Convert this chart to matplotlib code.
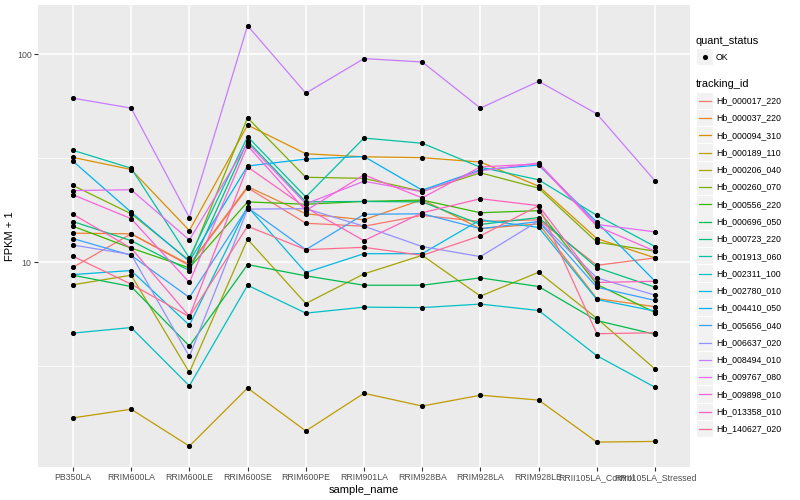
import matplotlib
matplotlib.use("Agg")
import matplotlib.pyplot as plt
from matplotlib.lines import Line2D
from matplotlib.patches import Rectangle
from matplotlib.ticker import FixedLocator, NullFormatter

plt.rcParams['font.family'] = ['Liberation Sans', 'DejaVu Sans']

samples = ['PB350LA', 'RRIM600LA', 'RRIM600LE', 'RRIM600SE', 'RRIM600PE', 'RRIM901LA',
           'RRIM928BA', 'RRIM928LA', 'RRIM928LE', 'RRII105LA_Control', 'RRII105LA_Stressed']

tracking_ids = ['Hb_000017_220', 'Hb_000037_220', 'Hb_000094_310', 'Hb_000189_110',
                'Hb_000206_040', 'Hb_000260_070', 'Hb_000556_220', 'Hb_000696_050',
                'Hb_000723_220', 'Hb_001913_060', 'Hb_002311_100', 'Hb_002780_010',
                'Hb_004410_050', 'Hb_005656_040', 'Hb_006637_020', 'Hb_008494_010',
                'Hb_009767_080', 'Hb_009898_010', 'Hb_013358_010', 'Hb_140627_020']

# FPKM + 1 per gene, in the order of samples
hb_000017_220 = [9.46, 13.7, 9.64, 22.8, 15.4, 14.9, 16.8, 15.7, 16.0, 9.67, 10.5]
hb_000037_220 = [13.8, 13.7, 9.75, 23.1, 17.1, 16.0, 20.0, 14.5, 15.3, 6.70, 6.12]
hb_000094_310 = [31.9, 27.9, 14.2, 45.6, 33.2, 32.1, 31.8, 30.3, 23.2, 13.0, 10.5]
hb_000189_110 = [1.79, 1.97, 1.31, 2.49, 1.55, 2.35, 2.04, 2.30, 2.18, 1.37, 1.38]
hb_000206_040 = [7.80, 8.67, 2.96, 12.9, 6.34, 8.80, 10.8, 6.88, 8.96, 5.38, 3.07]
hb_000260_070 = [23.4, 17.1, 10.2, 49.4, 25.6, 25.3, 21.9, 26.9, 22.7, 12.5, 11.3]
hb_000556_220 = [14.9, 11.7, 9.40, 19.5, 19.0, 19.6, 19.9, 17.3, 17.7, 7.83, 5.74]
hb_000696_050 = [8.67, 7.65, 3.96, 9.75, 8.61, 7.76, 7.76, 8.42, 7.65, 5.25, 4.51]
hb_000723_220 = [15.7, 12.7, 9.13, 38.2, 19.5, 19.6, 19.5, 15.2, 16.4, 9.43, 7.59]
hb_001913_060 = [34.5, 28.3, 10.5, 40.1, 20.6, 39.5, 37.3, 28.6, 24.9, 16.8, 11.9]
hb_002311_100 = [4.57, 4.86, 2.55, 7.76, 5.70, 6.09, 6.06, 6.30, 5.87, 3.56, 2.51]
hb_002780_010 = [8.73, 9.13, 4.99, 18.5, 8.93, 11.0, 11.0, 16.0, 14.7, 6.63, 5.83]
hb_004410_050 = [30.6, 17.4, 10.1, 29.0, 31.3, 32.2, 22.2, 27.8, 29.3, 15.6, 8.11]
hb_005656_040 = [13.0, 10.8, 6.78, 18.3, 11.5, 17.0, 17.1, 14.5, 15.7, 7.59, 6.56]
hb_006637_020 = [12.1, 10.9, 3.53, 18.0, 18.1, 14.9, 11.9, 10.65, 15.8, 8.42, 6.95]
hb_008494_010 = [61.4, 55.0, 16.4, 136.8, 64.9, 95.1, 91.6, 55.0, 74.0, 51.6, 24.6]
hb_009767_080 = [22.1, 22.3, 12.8, 37.4, 19.1, 24.5, 21.8, 27.5, 30.0, 15.2, 14.0]
hb_009898_010 = [21.1, 16.2, 8.00, 36.3, 17.7, 26.3, 20.4, 28.7, 29.7, 14.9, 11.3]
hb_013358_010 = [17.0, 11.7, 5.50, 28.7, 18.3, 12.7, 17.3, 20.2, 18.7, 8.00, 8.11]
hb_140627_020 = [10.7, 7.85, 5.48, 14.9, 11.5, 11.8, 10.8, 13.4, 18.7, 4.54, 4.59]

series = [hb_000017_220, hb_000037_220, hb_000094_310, hb_000189_110, hb_000206_040,
          hb_000260_070, hb_000556_220, hb_000696_050, hb_000723_220, hb_001913_060,
          hb_002311_100, hb_002780_010, hb_004410_050, hb_005656_040, hb_006637_020,
          hb_008494_010, hb_009767_080, hb_009898_010, hb_013358_010, hb_140627_020]

# ggplot2 hue palette for 20 levels
colors = ['#F8766D', '#EA8331', '#D89000', '#C09B00', '#A3A500', '#7CAE00', '#39B600',
          '#00BB4E', '#00BF7D', '#00C1A3', '#00BFC4', '#00BAE0', '#00B0F6', '#35A2FF',
          '#9590FF', '#C77CFF', '#E76BF3', '#FA62DB', '#FF62BC', '#FF6C91']

W, H = 800, 500
fig = plt.figure(figsize=(8, 5), dpi=100)
ax = fig.add_axes([38 / W, 1 - 467 / H, (690 - 38) / W, (467 - 5) / H])
ax.set_facecolor('#EBEBEB')

x = list(range(len(samples)))
for vals, col in zip(series, colors):
    ax.plot(x, vals, color=col, lw=0.9, zorder=3)
for vals in series:
    ax.plot(x, vals, ls='none', marker='o', ms=2.7, color='black', zorder=4)

ax.set_yscale('log')
ax.set_ylim(1.04, 172)
ax.set_xlim(-0.6, len(samples) - 0.4)
ax.set_yticks([10, 100])
ax.set_yticklabels(['10', '100'])
ax.yaxis.set_minor_locator(FixedLocator([10 ** 0.5, 10 ** 1.5]))
ax.yaxis.set_minor_formatter(NullFormatter())
ax.set_xticks(x)
ax.set_xticklabels(samples)

ax.grid(True, which='major', color='white', lw=1.1, zorder=0)
ax.grid(True, which='minor', axis='y', color='white', lw=0.55, zorder=0)
ax.set_axisbelow(True)
for s in ax.spines.values():
    s.set_visible(False)
ax.tick_params(which='major', length=2.6, width=0.8, color='#333333',
               labelsize=6.3, labelcolor='#4D4D4D', pad=2)
ax.tick_params(which='minor', length=0)

ax.set_xlabel('sample_name', fontsize=8, color='black', labelpad=2)
ax.set_ylabel('FPKM + 1', fontsize=8, color='black', labelpad=1)

# legends drawn in pixel space to mimic ggplot guides
def fx(px):
    return px / W

def fy(py):
    return 1 - py / H

fig.text(fx(696), fy(41), 'quant_status', fontsize=7.9, va='center', ha='left')
fig.patches.append(Rectangle((fx(697), fy(65.3)), 16 / W, 16.5 / H, transform=fig.transFigure,
                             facecolor='#F2F2F2', edgecolor='none'))
fig.lines.append(Line2D([fx(705)], [fy(57)], transform=fig.transFigure, marker='o',
                        ms=2.7, color='black', ls='none'))
fig.text(fx(716), fy(57), 'OK', fontsize=6.3, va='center', ha='left')

fig.text(fx(696), fy(84), 'tracking_id', fontsize=7.9, va='center', ha='left')
step = 17.28
for i, (tid, col) in enumerate(zip(tracking_ids, colors)):
    cy = 100.7 + i * step
    fig.patches.append(Rectangle((fx(697), fy(cy + 8.2)), 16 / W, 16.4 / H,
                                 transform=fig.transFigure, facecolor='#F2F2F2',
                                 edgecolor='none'))
    fig.lines.append(Line2D([fx(699), fx(711)], [fy(cy), fy(cy)], transform=fig.transFigure,
                            color=col, lw=0.9))
    fig.text(fx(716), fy(cy), tid, fontsize=6.3, va='center', ha='left')

fig.savefig('out.png', dpi=100, facecolor='white')
